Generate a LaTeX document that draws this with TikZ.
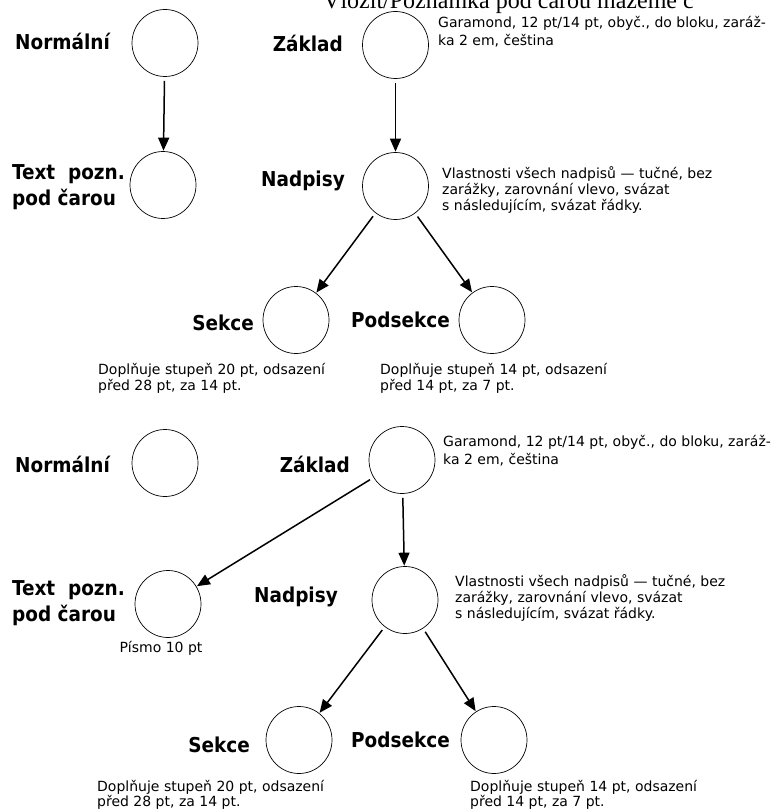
\documentclass[tikz,border=0pt]{standalone}
\usepackage{fontspec}
\setmainfont{DejaVu Sans Condensed}
\newfontfamily\notefont{DejaVu Sans}
\newfontfamily\titlefont{Liberation Serif}
\usetikzlibrary{arrows.meta,shapes.geometric}
\tikzset{
  lab/.style={font=\fontsize{20.5}{26}\selectfont\bfseries, inner sep=0pt},
  note/.style={font=\notefont\fontsize{14}{16}\selectfont, inner sep=0pt, align=left},
  note2/.style={note, font=\notefont\fontsize{14}{18}\selectfont},
  note3/.style={note, font=\notefont\fontsize{14}{15.5}\selectfont},
  circ/.style={draw, ellipse, minimum width=66pt, minimum height=67pt, inner sep=0pt, line width=0.7pt},
  arr/.style={-{Triangle[length=13pt,width=11pt]}, line width=1.5pt, shorten <=4pt, shorten >=0.5pt},
}
\begin{document}
\begin{tikzpicture}[x=1pt,y=-1pt]
\clip (0,0) rectangle (773,810);
\fill[white] (0,0) rectangle (773,810);
\node[anchor=base west, inner sep=0pt, font=\titlefont\fontsize{24}{26}\selectfont] (title) at (323,9) {Vložit/Poznámka pod čarou mažeme č};

% ---- top diagram ----
\node[circ] (n1) at (165,43) {};
\node[lab, anchor=base east] (n1l) at (110,50) {Normální};
\node[circ] (t1) at (163,185) {};
\node[lab, anchor=north west, align=left] (t1l) at (12,164.5) {Text\ \ pozn.\\pod čarou};
\node[circ] (z1) at (395.5,45) {};
\node[lab, anchor=base east] (z1l) at (343,52) {Základ};
\node[note2, anchor=north west] (z1n) at (438,16.5) {Garamond, 12 pt/14 pt, obyč., do bloku, zaráž-\\ka 2 em, čeština};
\node[circ] (h1) at (395.5,186) {};
\node[lab, anchor=base east] (h1l) at (345,187) {Nadpisy};
\node[note, anchor=north west] (h1n) at (442,166.5) {Vlastnosti všech nadpisů — tučné, bez\\zarážky, zarovnání vlevo, svázat\\s následujícím, svázat řádky.};
\node[circ] (s1) at (296,320) {};
\node[lab, anchor=base east] (s1l) at (254,330) {Sekce};
\node[circ] (p1) at (492,320) {};
\node[lab, anchor=base east] (p1l) at (450,327) {Podsekce};
\node[note3, anchor=north west] (s1n) at (98,363.5) {Doplňuje stupeň 20 pt, odsazení\\před 28 pt, za 14 pt.};
\node[note3, anchor=north west] (p1n) at (380,363.5) {Doplňuje stupeň 14 pt, odsazení\\před 14 pt, za 7 pt.};
\draw[arr] (n1) -- (t1);
\draw[arr] (z1) -- (h1);
\draw[arr] (h1) -- (s1);
\draw[arr] (h1) -- (p1);

% ---- bottom diagram ----
\node[circ] (n2) at (165,463) {};
\node[lab, anchor=base east] (n2l) at (110,472) {Normální};
\node[circ] (z2) at (402,460) {};
\node[lab, anchor=base east] (z2l) at (350,472) {Základ};
\node[note2, anchor=north west] (z2n) at (443,435.5) {Garamond, 12 pt/14 pt, obyč., do bloku, zaráž-\\ka 2 em, čeština};
\node[circ] (t2) at (168,604) {};
\node[lab, anchor=north west, align=left] (t2l) at (12,580.5) {Text\ \ pozn.\\pod čarou};
\node[note, anchor=base] (t2n) at (161,652) {Písmo 10 pt};
\node[circ] (h2) at (405,600) {};
\node[lab, anchor=base east] (h2l) at (338,602) {Nadpisy};
\node[note, anchor=north west] (h2n) at (455,574.5) {Vlastnosti všech nadpisů — tučné, bez\\zarážky, zarovnání vlevo, svázat\\s následujícím, svázat řádky.};
\node[circ] (s2) at (299,740) {};
\node[lab, anchor=base east] (s2l) at (250,752) {Sekce};
\node[circ] (p2) at (494,740) {};
\node[lab, anchor=base east] (p2l) at (450,747) {Podsekce};
\node[note3, anchor=north west] (s2n) at (97,780) {Doplňuje stupeň 20 pt, odsazení\\před 28 pt, za 14 pt.};
\node[note3, anchor=north west] (p2n) at (470,780) {Doplňuje stupeň 14 pt, odsazení\\před 14 pt, za 7 pt.};
\draw[arr] (z2) -- (t2);
\draw[arr] (z2) -- (h2);
\draw[arr] (h2) -- (s2);
\draw[arr] (h2) -- (p2);
\end{tikzpicture}
\end{document}
